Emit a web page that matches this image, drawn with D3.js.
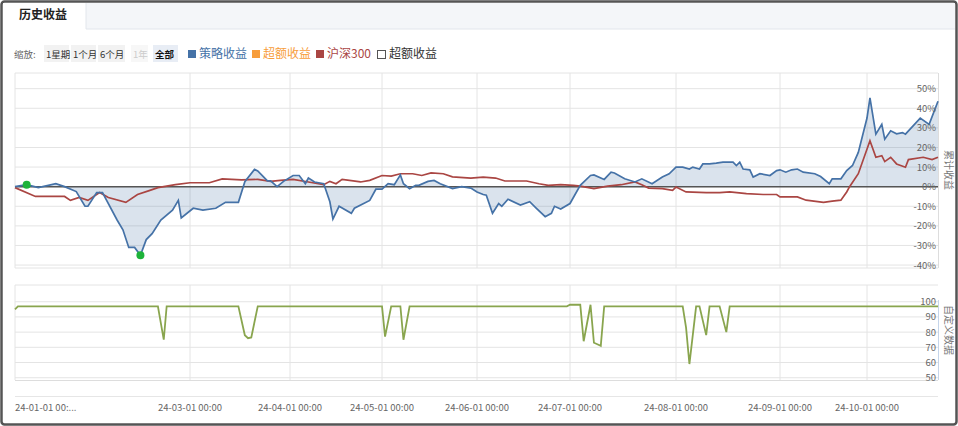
<!DOCTYPE html>
<html><head><meta charset="utf-8">
<script src="https://cdn.jsdelivr.net/npm/d3@7/dist/d3.min.js"></script>
<style>body{margin:0;background:#fff;font-family:"Noto Sans CJK SC","Noto Sans",sans-serif;}</style>
</head><body><svg id="c" width="958" height="426"></svg>
<script>
const monthTicks=["2024-01-01","2024-03-01","2024-04-01","2024-05-01","2024-06-01","2024-07-01","2024-08-01","2024-09-01","2024-10-01","2024-10-25"];
const tickLabels=["24-01-01 00:...","24-03-01 00:00","24-04-01 00:00","24-05-01 00:00","24-06-01 00:00","24-07-01 00:00","24-08-01 00:00","24-09-01 00:00","24-10-01 00:00"];
const strategy=[["01-01",0],["01-05",1],["01-09",-0.5],["01-15",1.5],["01-18",0],["01-22",-2.5],["01-25",-10],["01-26",-10],["01-29",-3],["01-31",-3],["02-05",-17],["02-07",-22],["02-09",-31],["02-11",-31],["02-13",-35],["02-15",-27],["02-17",-24],["02-20",-17],["02-24",-12],["02-26",-7],["02-27",-16],["03-02",-11],["03-05",-12],["03-09",-11],["03-12",-8],["03-16",-8],["03-18",2.5],["03-21",8.8],["03-22",8],["03-25",3],["03-26",3],["03-28",0],["03-30",2.7],["04-02",5.7],["04-04",5.7],["04-06",1.5],["04-07",4.4],["04-09",2.4],["04-12",1.5],["04-14",-7.7],["04-15",-16.5],["04-17",-10],["04-21",-13.6],["04-22",-11],["04-27",-7],["04-29",-1.3],["05-01",-1.3],["05-03",1.5],["05-05",1],["05-07",6],["05-08",1.5],["05-10",-1],["05-12",0.7],["05-13",0.7],["05-16",2.7],["05-18",3.2],["05-20",1.5],["05-24",-1],["05-27",0],["05-30",-0.7],["06-01",-2.7],["06-03",-4],["06-04",-4.4],["06-06",-13.6],["06-08",-8.6],["06-09",-10],["06-11",-6.4],["06-15",-9.4],["06-18",-7.7],["06-20",-10.8],["06-23",-15.3],["06-25",-13.6],["06-26",-10],["06-28",-11.4],["07-01",-8.6],["07-04",0.7],["07-07",5.7],["07-08",6],["07-11",3.7],["07-13",7.4],["07-14",7],["07-17",4],["07-20",2.4],["07-22",4],["07-25",1.5],["07-28",4.9],["07-30",6.6],["08-01",10],["08-03",10],["08-05",9],["08-06",10],["08-08",9],["08-09",11.6],["08-11",11.6],["08-13",12],["08-15",12.5],["08-18",12.5],["08-19",10.8],["08-20",12.5],["08-21",9],["08-23",8.6],["08-24",4.9],["08-26",6.6],["08-29",5.7],["08-31",8.2],["09-01",8.6],["09-03",7.4],["09-05",8.6],["09-07",9],["09-09",7.4],["09-13",6.6],["09-15",5.2],["09-18",1.5],["09-19",4],["09-22",4],["09-24",8.2],["09-26",10.8],["09-28",17.5],["10-01",35],["10-02",45.3],["10-04",26.8],["10-06",31.8],["10-07",24.2],["10-09",28.5],["10-11",27],["10-13",27.6],["10-14",26.8],["10-19",35],["10-22",31.8],["10-25",43.6]];
const hs300=[["01-01",-0.5],["01-08",-5],["01-15",-5],["01-18",-5],["01-20",-7],["01-23",-5.5],["01-26",-7],["01-30",-3],["02-02",-5.5],["02-08",-8],["02-12",-4],["02-16",-2],["02-19",-0.5],["02-25",1],["03-01",2],["03-07",2],["03-11",4],["03-17",3.5],["03-22",3.7],["03-26",2.7],["03-29",3.2],["04-02",3.7],["04-07",2.4],["04-12",1],["04-14",2.7],["04-16",1.5],["04-18",3.7],["04-24",2.4],["04-27",3.2],["05-01",5.7],["05-04",5.4],["05-07",6.6],["05-11",6.6],["05-14",5.7],["05-17",7],["05-21",6.6],["05-24",5],["05-30",4.4],["06-03",4.9],["06-07",4.4],["06-10",2.9],["06-14",2.9],["06-17",2.9],["06-21",1.5],["06-24",0.7],["06-28",1],["07-02",0.7],["07-04",0.3],["07-08",-1],["07-12",0.3],["07-16",1],["07-20",2.4],["07-22",1],["07-24",-0.7],["07-28",-1],["07-31",-1.9],["08-01",-0.2],["08-04",-2.7],["08-10",-3],["08-14",-3],["08-17",-2.7],["08-22",-3.5],["08-27",-4],["08-31",-4],["09-01",-5.2],["09-07",-5.2],["09-10",-6.9],["09-16",-8],["09-19",-7.4],["09-22",-6.9],["09-24",-2.7],["09-25",0],["09-28",6.6],["10-02",23.4],["10-04",15],["10-06",15.8],["10-07",12.8],["10-09",15],["10-11",11.6],["10-14",9.9],["10-15",13.8],["10-20",15],["10-23",13.8],["10-25",15]];
const custom=[["01-01",95],["01-02",97],["02-19",97],["02-21",75],["02-22",97],["03-16",97],["03-18",78],["03-19",76],["03-20",76.5],["03-22",97],["05-01",97],["05-02",77],["05-04",97],["05-07",97],["05-08",75],["05-10",97],["06-30",97],["07-01",98],["07-04",98],["07-05",74],["07-07",98],["07-08",73],["07-09",72],["07-10",71],["07-11",97],["08-03",97],["08-04",83],["08-05",59],["08-07",97],["08-08",97],["08-10",78],["08-11",97],["08-14",97],["08-16",80],["08-17",97],["10-25",97]];
const markers=[["01-05",1],["02-13",-35]];
const yTicksTop=[50,40,30,20,10,0,-10,-20,-30,-40];
const yTicksBot=[100,90,80,70,60,50];

const P=d3.timeParse("%Y-%m-%d");
const pd=s=>P("2024-"+s);
const svg=d3.select("#c");
const x=d3.scaleTime().domain(monthTicks.map(P)).range([15,190,290,382,477,570,676,780,867,938]);
const y=d3.scaleLinear().domain([-41.5,58]).range([268,73]);
const y2=d3.scaleLinear().domain([48.5,111]).range([380,285]);

svg.append("rect").attr("x",1.5).attr("y",1.5).attr("width",955).attr("height",423).attr("rx",3).attr("fill","#fff").attr("stroke","#555").attr("stroke-width",2.5);
svg.append("rect").attr("x",3).attr("y",3).attr("width",952).attr("height",26).attr("fill","#f4f6f9");
svg.append("line").attr("x1",3).attr("x2",955).attr("y1",29).attr("y2",29).attr("stroke","#e2e6ec");
svg.append("rect").attr("x",3).attr("y",3).attr("width",83).attr("height",27).attr("fill","#fff");
svg.append("line").attr("x1",86).attr("x2",86).attr("y1",3).attr("y2",29).attr("stroke","#e2e6ec");
svg.append("text").attr("x",19).attr("y",19).attr("font-size",12).attr("font-weight","bold").attr("fill","#222").text("历史收益");

const tb=svg.append("g").attr("font-size",9.5);
tb.append("text").attr("x",14).attr("y",58).attr("fill","#666").text("缩放:");
[["1星期",46,"#333","#f2f2f2",25],["1个月",73,"#333","#f2f2f2",25],["6个月",100,"#333","#f2f2f2",27],["1年",133,"#ccc","#f7f7f7",17],["全部",155,"#111","#e8edf5",25]].forEach(b=>{
  tb.append("rect").attr("x",b[1]-2).attr("y",45).attr("width",b[4]).attr("height",17).attr("fill",b[3]);
  tb.append("text").attr("x",b[1]).attr("y",58).attr("fill",b[2]).attr("font-weight",b[0]=="全部"?"bold":"normal").text(b[0]);
});
const lg=svg.append("g").attr("font-size",12);
[["策略收益",188,"#4572a7"],["超额收益",252,"#f79d3b"],["沪深300",316,"#aa4643"]].forEach(l=>{
  lg.append("rect").attr("x",l[1]).attr("y",50).attr("width",8).attr("height",8).attr("fill",l[2]);
  lg.append("text").attr("x",l[1]+11).attr("y",58).attr("fill",l[2]).text(l[0]);
});
lg.append("rect").attr("x",377.5).attr("y",50.5).attr("width",8).attr("height",8).attr("fill","#fff").attr("stroke","#555");
lg.append("text").attr("x",389).attr("y",58).attr("fill","#333").text("超额收益");

const grid="#e4e4e4";
svg.append("g").selectAll("line").data(d3.range(-40,60,10)).join("line").attr("x1",15).attr("x2",938).attr("y1",d=>y(d)).attr("y2",d=>y(d)).attr("stroke",grid);
svg.append("line").attr("x1",15).attr("x2",938).attr("y1",73).attr("y2",73).attr("stroke",grid);
svg.append("line").attr("x1",15).attr("x2",938).attr("y1",268).attr("y2",268).attr("stroke",grid);
const vt=monthTicks.slice(1,9).map(P);
svg.append("g").selectAll("line").data(vt).join("line").attr("x1",d=>x(d)).attr("x2",d=>x(d)).attr("y1",73).attr("y2",268).attr("stroke",grid);
svg.append("line").attr("x1",15).attr("x2",15).attr("y1",73).attr("y2",268).attr("stroke",grid);
svg.append("line").attr("x1",938.5).attr("x2",938.5).attr("y1",73).attr("y2",268).attr("stroke","#ddd");

const sData=strategy.map(d=>[pd(d[0]),d[1]]);
const hData=hs300.map(d=>[pd(d[0]),d[1]]);
svg.append("path").datum(sData).attr("d",d3.area().x(d=>x(d[0])).y0(y(0)).y1(d=>y(d[1]))).attr("fill","rgba(69,114,167,0.2)");
svg.append("line").attr("x1",15).attr("x2",938).attr("y1",y(0)).attr("y2",y(0)).attr("stroke","#555").attr("stroke-width",1.5);
svg.append("path").datum(hData).attr("d",d3.line().x(d=>x(d[0])).y(d=>y(d[1]))).attr("fill","none").attr("stroke","#aa4643").attr("stroke-width",1.7);
svg.append("path").datum(sData).attr("d",d3.line().x(d=>x(d[0])).y(d=>y(d[1]))).attr("fill","none").attr("stroke","#4572a7").attr("stroke-width",1.7);
svg.append("g").selectAll("circle").data(markers).join("circle").attr("cx",d=>x(pd(d[0]))).attr("cy",d=>y(d[1])).attr("r",4).attr("fill","#1db33a");

const ax=svg.append("g").attr("font-size",9.5).attr("fill","#666").attr("text-anchor","end");
ax.selectAll("text").data(yTicksTop).join("text").attr("x",936).attr("y",d=>y(d)+3.5).text(d=>d+"%");
svg.append("text").attr("transform","translate(945,170) rotate(90)").attr("text-anchor","middle").attr("font-size",10).attr("fill","#777").text("累计收益");

svg.append("g").selectAll("line").data(yTicksBot).join("line").attr("x1",15).attr("x2",938).attr("y1",d=>y2(d)).attr("y2",d=>y2(d)).attr("stroke",grid);
svg.append("line").attr("x1",15).attr("x2",938).attr("y1",285).attr("y2",285).attr("stroke",grid);
svg.append("g").selectAll("line").data(vt).join("line").attr("x1",d=>x(d)).attr("x2",d=>x(d)).attr("y1",285).attr("y2",380).attr("stroke",grid);
svg.append("line").attr("x1",15).attr("x2",15).attr("y1",285).attr("y2",380).attr("stroke",grid);
svg.append("line").attr("x1",938.5).attr("x2",938.5).attr("y1",300).attr("y2",380).attr("stroke","#c5d5ea");
svg.append("line").attr("x1",15).attr("x2",938).attr("y1",380.5).attr("y2",380.5).attr("stroke","#ddd");
svg.append("line").attr("x1",15).attr("x2",938).attr("y1",396.5).attr("y2",396.5).attr("stroke","#e6e6e6");
svg.append("path").datum(custom.map(d=>[pd(d[0]),d[1]])).attr("d",d3.line().x(d=>x(d[0])).y(d=>y2(d[1]))).attr("fill","none").attr("stroke","#89a54e").attr("stroke-width",1.8);
const ax2=svg.append("g").attr("font-size",9.5).attr("fill","#666").attr("text-anchor","end");
ax2.selectAll("text").data(yTicksBot).join("text").attr("x",936).attr("y",d=>y2(d)+3.5).text(d=>d);
svg.append("text").attr("transform","translate(945,330) rotate(90)").attr("text-anchor","middle").attr("font-size",10).attr("fill","#777").text("自定义数据");

const xt=svg.append("g").attr("font-size",9.5).attr("fill","#666");
xt.selectAll("text").data(tickLabels).join("text").attr("x",(d,i)=>i==0?15:x(P(monthTicks[i]))).attr("y",411).attr("text-anchor",(d,i)=>i==0?"start":"middle").text(d=>d);
</script></body></html>
